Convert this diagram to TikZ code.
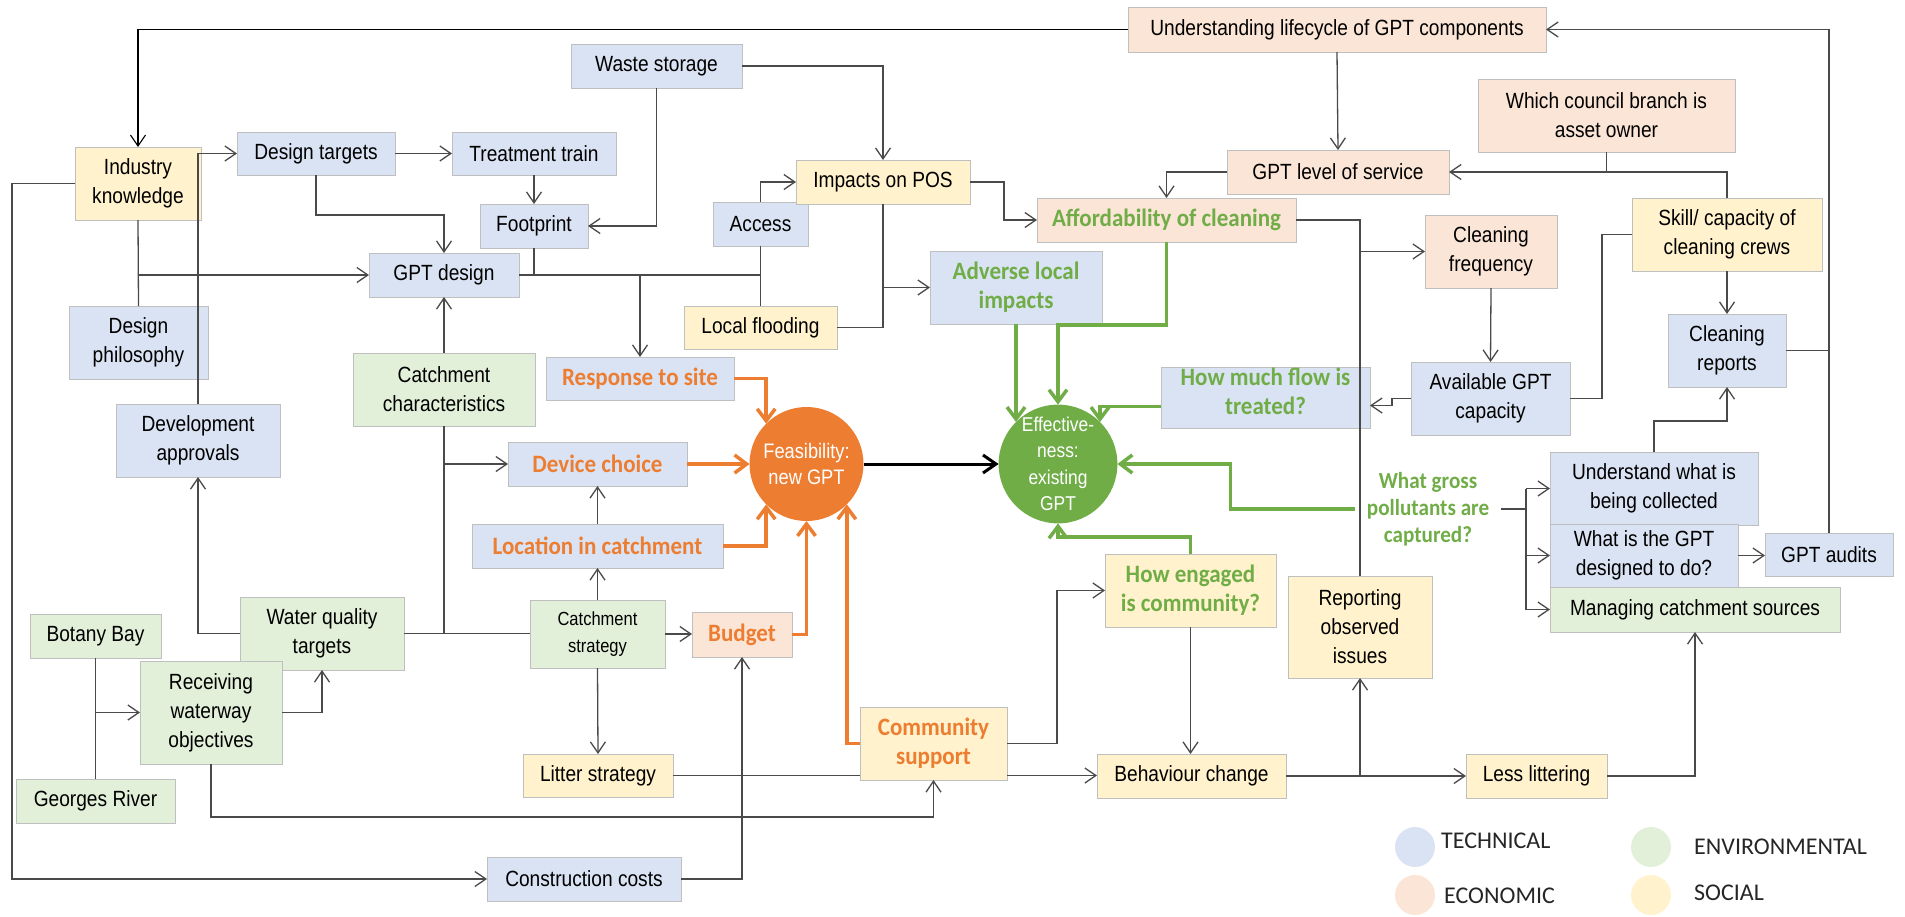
\documentclass[tikz,border=0pt]{standalone}
\usepackage{fontspec}
\setmainfont{Liberation Sans}[FakeStretch=0.87]
\newfontfamily\hlfont{Carlito}[FakeStretch=0.92]
\newfontfamily\keyfont{Carlito}
\usetikzlibrary{arrows.meta,calc}

\definecolor{techc}{HTML}{DAE3F3}
\definecolor{econc}{HTML}{FBE5D6}
\definecolor{envc}{HTML}{E2F0D9}
\definecolor{socc}{HTML}{FFF2CC}
\definecolor{orng}{HTML}{ED7D31}
\definecolor{grn}{HTML}{70AD47}
\definecolor{linec}{HTML}{4A4A4A}
\definecolor{edgec}{HTML}{BFBFBF}

\tikzset{
  box/.style={draw=edgec, line width=1pt, inner sep=1pt, outer sep=0pt, align=center,
              font=\fontsize{22}{29}\selectfont, text=black},
  tech/.style={box, fill=techc},
  econ/.style={box, fill=econc},
  envi/.style={box, fill=envc},
  soci/.style={box, fill=socc},
  ortx/.style={font=\hlfont\bfseries\fontsize{25}{29}\selectfont, text=orng},
  grtx/.style={font=\hlfont\bfseries\fontsize{25}{29}\selectfont, text=grn},
  link/.style={draw=linec, line width=1.3pt},
  conn/.style={link, -{Straight Barb[length=11pt,width=15pt]}},
  oconn/.style={draw=orng, line width=3.5pt, -{Straight Barb[length=12pt,width=18pt]}},
  gconn/.style={draw=grn, line width=3.5pt, -{Straight Barb[length=12pt,width=18pt]}},
  hub/.style={circle, minimum size=114pt, inner sep=0pt, outer sep=0pt, align=center, text=white},
  keydot/.style={circle, minimum size=40pt, inner sep=0pt},
  keytext/.style={anchor=west, inner sep=0pt, font=\keyfont\fontsize{24}{28}\selectfont, text=black!85}
}

% box given by its corners: name, style, x1, y1, x2, y2, text
\newcommand\gbox[7]{%
  \node[#2, minimum width={(#5-#3)*1pt}, minimum height={(#6-#4)*1pt}]
    (#1) at ({(#3+#5)/2},{(#4+#6)/2}) {#7};}

\begin{document}
\begin{tikzpicture}[x=1pt,y=-1pt]
\useasboundingbox (0,0) rectangle (1905,916);

% ---- technical
\gbox{dtar}{tech}{237}{132}{395}{175}{Design targets}
\gbox{ttr}{tech}{452}{132}{616}{175}{Treatment train}
\gbox{ws}{tech}{571}{44}{742}{88}{Waste storage}
\gbox{fp}{tech}{480}{204}{588}{248}{Footprint}
\gbox{gd}{tech}{369}{253}{519}{297}{GPT design}
\gbox{dp}{tech}{69}{306}{208}{379}{Design\\philosophy}
\gbox{da}{tech}{116}{404}{280}{477}{Development\\approvals}
\gbox{acc}{tech}{713}{202}{808}{246}{Access}
\gbox{rts}{tech,ortx}{546}{357}{734}{400}{Response to site}
\gbox{dc}{tech,ortx}{508}{442}{687}{486}{Device choice}
\gbox{loc}{tech,ortx}{472}{524}{723}{568}{Location in catchment}
\gbox{adv}{tech,grtx}{930}{251}{1102}{324}{Adverse local\\impacts}
\gbox{hmf}{tech,grtx,text depth=12pt}{1161}{367}{1370}{428}{How much flow is\\treated?}
\gbox{avail}{tech}{1411}{362}{1570}{435}{Available GPT\\capacity}
\gbox{crep}{tech}{1668}{314}{1786}{387}{Cleaning\\reports}
\gbox{und}{tech}{1550}{452}{1758}{525}{Understand what is\\being collected}
\gbox{wgd}{tech}{1550}{524}{1738}{587}{What is the GPT\\designed to do?}
\gbox{audit}{tech}{1765}{533}{1893}{576}{GPT audits}
\gbox{cc}{tech}{487}{857}{681}{901}{Construction costs}

% ---- economic
\gbox{ulc}{econ}{1128}{7}{1546}{52}{Understanding lifecycle of GPT components}
\gbox{wcb}{econ}{1478}{79}{1735}{152}{Which council branch is\\asset owner}
\gbox{los}{econ}{1227}{150}{1449}{194}{GPT level of service}
\gbox{aff}{econ,grtx}{1037}{198}{1296}{242}{Affordability of cleaning}
\gbox{cf}{econ}{1425}{215}{1557}{288}{Cleaning\\frequency}
\gbox{bud}{econ,ortx}{692}{612}{792}{657}{Budget}

% ---- environmental
\gbox{cch}{envi}{353}{353}{535}{426}{Catchment\\characteristics}
\gbox{wqt}{envi}{240}{597}{404}{670}{Water quality\\targets}
\gbox{cs}{envi,font=\fontsize{19}{27}\selectfont}{530}{600}{665}{668}{Catchment\\strategy}
\gbox{bb}{envi}{30}{614}{161}{658}{Botany Bay}
\gbox{gr}{envi}{16}{779}{175}{823}{Georges River}
\gbox{rwo}{envi}{140}{661}{282}{764}{Receiving\\waterway\\objectives}
\gbox{mcs}{envi}{1550}{587}{1840}{632}{Managing catchment sources}

% ---- social
\gbox{ik}{soci}{75}{147}{201}{220}{Industry\\knowledge}
\gbox{ipos}{soci}{796}{160}{970}{204}{Impacts on POS}
\gbox{lf}{soci}{684}{306}{837}{349}{Local flooding}
\gbox{skill}{soci}{1632}{198}{1822}{271}{Skill/ capacity of\\cleaning crews}
\gbox{heng}{soci,grtx}{1105}{554}{1276}{627}{How engaged\\is community?}
\gbox{roi}{soci}{1288}{576}{1432}{678}{Reporting\\observed\\issues}
\gbox{ls}{soci}{523}{754}{673}{797}{Litter strategy}
\gbox{csup}{soci,ortx}{860}{707}{1007}{780}{Community\\support}
\gbox{bc}{soci}{1097}{754}{1286}{798}{Behaviour change}
\gbox{lessl}{soci}{1466}{754}{1607}{798}{Less littering}

% ---- the two outcomes
\node[hub, fill=orng, font=\fontsize{21}{26.5}\selectfont] (feas) at (806.5,464) {Feasibility:\\new GPT};
\node[hub, fill=grn, font=\fontsize{20}{26.5}\selectfont] (eff) at (1058,464) {Effective-\\ness:\\existing\\GPT};

% free-standing question
\node[grtx, align=center, inner sep=12pt, font=\hlfont\bfseries\fontsize{23}{27}\selectfont] (wg) at (1428,509)
  {What gross\\pollutants are\\captured?};
\coordinate (wgj) at (1526,509);

% ---- grey connectors
\draw[conn, draw=black, line width=1.1pt] (ulc.west) -| (ik.north);
\draw[conn] (ik.west) -- ++(-63,0) |- (cc.west);
\draw[conn] (da.north) |- (dtar.west);
\draw[conn] (dtar.east) -- (ttr.west);
\draw[link] (ik.south) -- (dp.north);
\draw[conn] (ik.south |- gd.west) -- (gd.west);
\draw[conn] (dtar.south) -- (dtar.south |- 0,215) -| (gd.north);
\draw[conn] (ttr.south) -- (fp.north);
\draw[conn] (ws.south) |- (fp.east);
\draw[conn] (ws.east) -| (ipos.north);
\draw[link] (gd.east) -- (gd.east -| acc.south);
\draw[link] (fp.south) -- (fp.south |- gd.east);
\draw[conn] (rts.north |- gd.east) -- (rts.north);
\draw[link] (acc.south) -- (lf.north);
\draw[conn] (acc.north) |- (ipos.west);
\draw[conn] (ipos.south) |- (adv.west);
\draw[link] (lf.east) -| (ipos.south |- adv.west);
\draw[conn] (ipos.east) -- ++(34,0) |- (aff.west);
\draw[conn] (los.west) -| (aff.north);
\draw[conn] (ulc.south) -- (los.north);
\draw[conn] (wcb.south) |- (los.east);
\draw[link] (skill.north) |- (wcb.south |- los.east);
\draw[conn] (skill.south) -- (crep.north);
\draw[conn] (audit.north) -- (audit.north |- ulc.east) -- (ulc.east);
\draw[link] (crep.east) -- (crep.east -| audit.north);
\draw[conn] (und.north) -- ++(0,-31) -| (crep.south);
\draw[link] (aff.east) -| (roi.north);
\draw[conn] (roi.north |- cf.west) -- (cf.west);
\draw[conn] (cf.south) -- (avail.north);
\draw[link] (skill.west) -- ++(-30,0) |- (avail.east);
\draw[conn] (avail.west) -- ++(-19,0) |- ([yshift=-8pt]hmf.east);
\draw[link] (wg.east) -- (wgj);
\draw[link] (wgj |- und.west) -- (wgj |- mcs.west);
\draw[conn] (wgj |- und.west) -- (und.west);
\draw[conn] (wgj |- wgd.west) -- (wgd.west);
\draw[conn] (wgj |- mcs.west) -- (mcs.west);
\draw[conn] (wgd.east) -- (wgd.east -| audit.west);
\draw[conn] (lessl.east) -| (mcs.south);
\draw[conn] (bc.east) -- (lessl.west);
\draw[conn] (bc.east -| roi.south) -- (roi.south);
\draw[conn] (heng.south) -- (heng.south |- bc.north);
\draw[conn] (csup.east) -- ++(50,0) |- (heng.west);
\draw[link] (ls.east) -- (ls.east -| csup.west);
\draw[conn] (csup.east |- ls.east) -- (bc.west |- ls.east);
\draw[conn] (rwo.south) -- (rwo.south |- 0,817) -| (csup.south);
\draw[conn] (cc.east) -| (bud.south);
\draw[conn] (cs.east) -- (bud.west |- cs.east);
\draw[conn] (cch.north) -- (gd.south);
\draw[link] (cch.south) -- (cch.south |- wqt.east);
\draw[conn] (cch.south |- dc.west) -- (dc.west);
\draw[link] (wqt.east) -- (cs.west |- wqt.east);
\draw[conn] (wqt.west) -| (da.south);
\draw[conn] (rwo.east) -| (wqt.south);
\draw[link] (bb.south) -- (bb.south |- gr.north);
\draw[conn] (bb.south |- rwo.west) -- (rwo.west);
\draw[conn] (cs.north) -- (loc.south);
\draw[conn] (loc.north) -- (dc.south);
\draw[conn] (cs.south) -- (ls.north);

% ---- feasibility drivers
\draw[oconn] (rts.east) -| (feas.north west);
\draw[oconn] (dc.east) -- (feas.west);
\draw[oconn] (loc.east) -| (feas.south west);
\draw[oconn] (bud.east) -| (feas.south);
\draw[oconn] (csup.west) -| (feas.south east);

% ---- effectiveness drivers
\draw[gconn] (adv.south) -- (adv.south |- eff.north west);
\draw[gconn] (aff.south) -- (aff.south |- 0,325) -| (eff.north);
\draw[gconn] ([yshift=-9pt]hmf.west) -| (eff.north east);
\draw[gconn] (wg.west) -- ++(-124,0) |- (eff.east);
\draw[gconn] (heng.north) -- ++(0,-17) -| (eff.south);

\draw[line width=3pt, -{Straight Barb[length=13pt,width=18pt]}] (feas.east) -- (eff.west);

% ---- key
\node[keydot, fill=techc] (kt) at (1415,847) {};
\node[keytext] (ktt) at (1441,841) {TECHNICAL};
\node[keydot, fill=econc] (ke) at (1415,895) {};
\node[keytext] (ket) at (1444,896) {ECONOMIC};
\node[keydot, fill=envc] (kv) at (1651,847) {};
\node[keytext] (kvt) at (1694,847) {ENVIRONMENTAL};
\node[keydot, fill=socc] (ks) at (1651,895) {};
\node[keytext] (kst) at (1694,893) {SOCIAL};
\end{tikzpicture}
\end{document}
